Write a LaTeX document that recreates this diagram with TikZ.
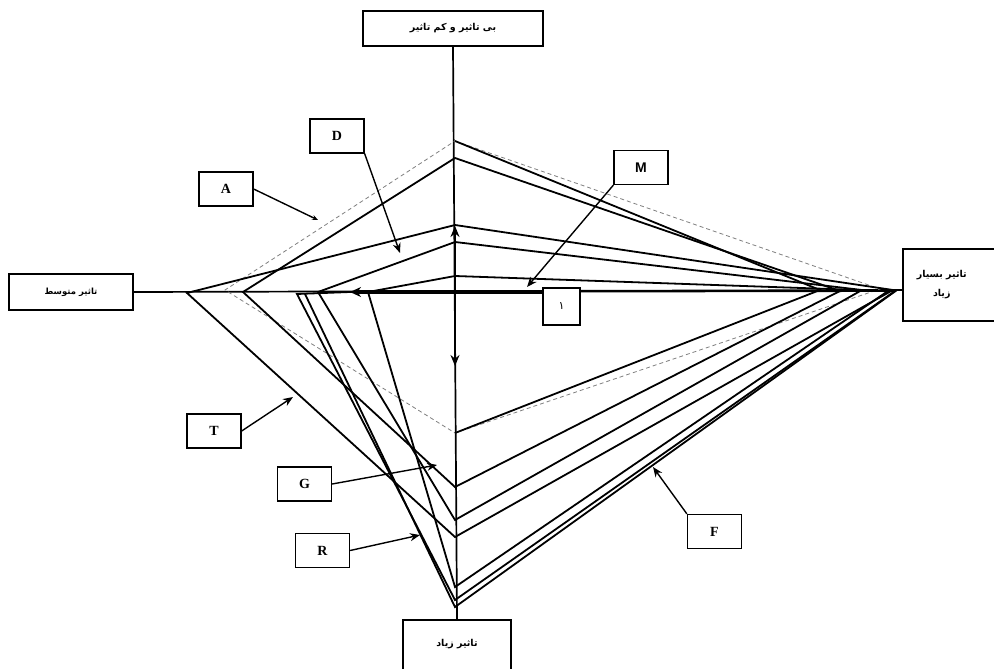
\documentclass[tikz,border=0pt]{standalone}
\usepackage{fontspec}
\setmainfont{Liberation Serif}
\newfontfamily\arabicfont[Script=Arabic]{DejaVu Sans}
\newfontfamily\lblsans{Liberation Sans}
\TeXXeTstate=1
\usetikzlibrary{arrows.meta}
\begin{document}
\begin{tikzpicture}[x=1pt,y=-1pt,line join=miter,
  axisbox/.style={draw,line width=1.5pt,inner sep=0pt,fill=white,
    font=\arabicfont\bfseries\fontsize{9.5}{11}\selectfont},
  lblbox/.style={draw,line width=1.3pt,minimum width=54pt,minimum height=34pt,
    inner sep=0pt,fill=white,font=\bfseries\fontsize{14}{14}\selectfont},
  poly/.style={line width=1.8pt},
  dpoly/.style={line width=0.8pt,gray,dash pattern=on 4pt off 3pt},
  ptr/.style={line width=1.4pt,-{Stealth[length=10pt,width=8pt]}},
  axis/.style={line width=1.7pt}]
\clip (0,0) rectangle (994,669);
\fill[white] (0,0) rectangle (994,669);
% vertices on the axes
\coordinate (c) at (455,292);
\coordinate (t1) at (455,141); \coordinate (t2) at (455,158);
\coordinate (t3) at (455,225); \coordinate (t4) at (455,242);
\coordinate (t5) at (455,276);
\coordinate (b1) at (455,433); \coordinate (b2) at (455,487);
\coordinate (b3) at (455,537); \coordinate (b4) at (455,520);
\coordinate (b5) at (455,587); \coordinate (b6) at (455,600);
\coordinate (b7) at (455,607);
\coordinate (r1) at (820,290); \coordinate (r2) at (840,291);
\coordinate (r3) at (893,290); \coordinate (r4) at (862,290);
\coordinate (r5) at (888,291); \coordinate (r6) at (895,291);
\coordinate (r7) at (897,290); \coordinate (rd) at (880,289);
\coordinate (l1) at (225,290); \coordinate (l2) at (243,292);
\coordinate (l3) at (187,293); \coordinate (l4) at (318,292);
\coordinate (l5) at (368,292); \coordinate (l6) at (297,294);
\coordinate (l7) at (305,294); \coordinate (l6t) at (350,292);
% axis boxes
\node[axisbox,minimum width=180pt,minimum height=35pt] (top) at (453,28.5) {\beginR بی تاثیر و کم تاثیر\endR};
\node[axisbox,minimum width=124pt,minimum height=36pt,font=\arabicfont\bfseries\fontsize{8.5}{10}\selectfont] (lft) at (71,292) {\beginR تاثیر متوسط\endR};
\node[axisbox,minimum width=100pt,minimum height=72pt,anchor=west,align=center] (rgt) at (902,285) {\beginR تاثیر بسیار\endR\hspace*{22pt}\\[8pt]\beginR زیاد\endR\hspace*{22pt}};
\node[axisbox,minimum width=108pt,text height=27pt,text depth=43pt,anchor=north] (bot) at (457,619) {\beginR تاثیر زیاد\endR};
\coordinate (rin) at (902,290);
% axes
\draw[axis] (top.south) -- (bot.north);
\draw[axis] (lft.east) -- (rin);
% polygons
\draw[dpoly] (t1) -- (rd) -- (b1) -- (l1) -- cycle;
\draw[poly] (t1) -- (r1) -- (b1);
\draw[poly] (t2) -- (r2) -- (b2) -- (l2) -- cycle;
\draw[poly] (t3) -- (r3) -- (b3) -- (l3) -- cycle;
\draw[poly] (t4) -- (r4) -- (b4) -- (l4) -- cycle;
\draw[poly] (t5) -- (r5) -- (b5) -- (l5) -- cycle;
\draw[poly] (l6t) -- (r6) -- (b6) -- (l6) -- cycle;
\draw[poly] (r7) -- (b7) -- (l7);
% central arrows
\draw[line width=1.7pt,-{Stealth[length=11pt,width=9pt]}] (c) -- (455,226);
\draw[line width=1.7pt,-{Stealth[length=11pt,width=9pt]}] (c) -- (455,366);
\node[lblbox,minimum width=37pt,minimum height=37pt,font=\arabicfont\fontsize{11}{11}\selectfont] (one) at (561.5,306.5) {۱};
\coordinate (onew) at (543,292);
\coordinate (onetip) at (350,292);
\draw[line width=3.5pt,-{Stealth[length=11pt,width=10pt]}] (onew) -- (onetip);
% label boxes
\node[lblbox] (A) at (226,189) {A};
\node[lblbox] (D) at (337,136) {D};
\node[lblbox,font=\lblsans\bfseries\fontsize{14}{14}\selectfont] (M) at (641,167.5) {M};
\node[lblbox] (T) at (214,431) {T};
\node[lblbox] (G) at (304.5,484) {G};
\node[lblbox] (R) at (322.5,550.5) {R};
\node[lblbox] (F) at (714.5,531.5) {F};
\coordinate (Atip) at (318,220);
\coordinate (Dtip) at (400,253);
\coordinate (Mtip) at (527,287);
\coordinate (Ttip) at (293,397);
\coordinate (Gtip) at (437,465);
\coordinate (Rtip) at (420,535);
\coordinate (Ftip) at (653,467);
\draw[ptr,-{Stealth[length=6pt,width=5pt]}] (A.east) -- (Atip);
\draw[ptr] (D.south east) -- (Dtip);
\draw[ptr] (M.south west) -- (Mtip);
\draw[ptr] (T.east) -- (Ttip);
\draw[ptr] (G.east) -- (Gtip);
\draw[ptr] (R.east) -- (Rtip);
\draw[ptr] (F.north west) -- (Ftip);
\end{tikzpicture}
\end{document}
